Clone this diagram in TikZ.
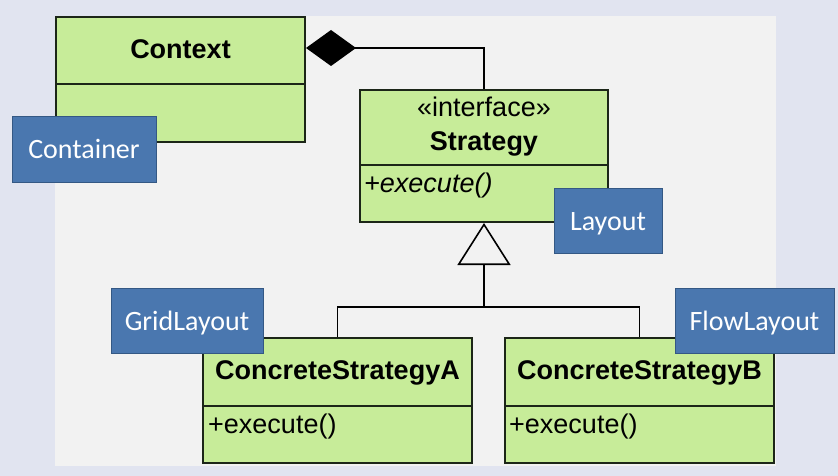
\documentclass[tikz,border=0pt]{standalone}
\usepackage{fontspec}
\newfontfamily\umlfont{Liberation Sans}
\newfontfamily\notefont{Carlito}
\usetikzlibrary{arrows.meta,positioning}

\definecolor{pagebg}{RGB}{225,228,240}
\definecolor{panelbg}{RGB}{242,242,242}
\definecolor{umlgreen}{RGB}{199,236,153}
\definecolor{umledge}{RGB}{28,38,24}
\definecolor{noteblue}{RGB}{74,119,175}
\definecolor{noteedge}{RGB}{52,88,132}

\tikzset{
  umlclass/.style={draw=umledge, fill=umlgreen, line width=2pt, inner sep=0pt},
  umlsep/.style={draw=umledge, line width=2pt},
  umltext/.style={font=\umlfont\fontsize{27}{30}\selectfont, anchor=base, inner sep=0pt},
  assoc/.style={draw=black, line width=1.6pt},
  note/.style={draw=noteedge, fill=noteblue, line width=1pt, text=white,
    font=\notefont\fontsize{28}{32}\selectfont, text height=19pt, text depth=0pt,
    inner sep=0pt, minimum height=65pt}
}

\begin{document}
\begin{tikzpicture}[x=1pt,y=-1pt]
    \useasboundingbox (0,0) rectangle (838,476);
    % Background
    \fill[pagebg] (0,0) rectangle (838,476);
    \fill[panelbg] (55,16) rectangle (776,466);

    % Classes
    \node[umlclass, minimum width=249pt, minimum height=125pt] (Context) at (180.5,79.5) {};
    \draw[umlsep] (Context.west |- 0,84) -- (Context.east |- 0,84);
    \node[umltext] (ctxname) at (180.5,59) {\bfseries Context};

    \node[umlclass, minimum width=248pt, minimum height=132pt] (Strategy) at (484,156) {};
    \draw[umlsep] (Strategy.west |- 0,165) -- (Strategy.east |- 0,165);
    \node[umltext] (stereo) at (484,117) {«interface»};
    \node[umltext] (stratname) at (484,150) {\bfseries Strategy};
    \node[umltext, anchor=base west] (stratop) at (364,192) {\itshape +execute()};

    \node[umlclass, minimum width=269pt, minimum height=125pt] (CSA) at (337.5,400.5) {};
    \draw[umlsep] (CSA.west |- 0,406) -- (CSA.east |- 0,406);
    \node[umltext] (csaname) at (337.5,379) {\bfseries ConcreteStrategyA};
    \node[umltext, anchor=base west] (csaop) at (208,433) {+execute()};

    \node[umlclass, minimum width=269pt, minimum height=125pt] (CSB) at (639.5,400.5) {};
    \draw[umlsep] (CSB.west |- 0,406) -- (CSB.east |- 0,406);
    \node[umltext] (csbname) at (639.5,379) {\bfseries ConcreteStrategyB};
    \node[umltext, anchor=base west] (csbop) at (509,433) {+execute()};

    % Composition
    \coordinate (ctxport) at (Context.east |- 0,48);
    \draw[assoc, {Diamond[length=50pt,width=36pt]}-] (ctxport) -| (Strategy.north);

    % Realisation
    \coordinate (joint) at (Strategy.south |- 0,307);
    \draw[assoc] (CSA.north) |- (joint);
    \draw[assoc] (CSB.north) |- (joint);
    \draw[assoc, -{Triangle[open,length=42pt,width=53pt]}] (joint) -- (Strategy.south);

    % Notes
    \node[note, minimum width=144pt] (container) at (84,149.5) {Container};
    \node[note, minimum width=108pt] (layout) at (608,220.5) {Layout};
    \node[note, minimum width=152pt] (grid) at (187,320.5) {GridLayout};
    \node[note, minimum width=159pt] (flow) at (754.5,320.5) {FlowLayout};
\end{tikzpicture}
\end{document}
